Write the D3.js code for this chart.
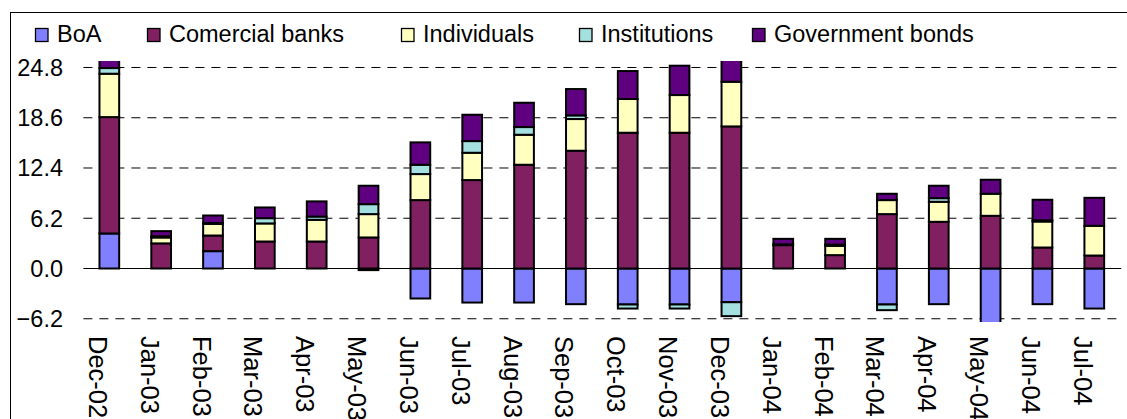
<!DOCTYPE html>
<html>
<head>
<meta charset="utf-8">
<script src="https://cdn.jsdelivr.net/npm/d3@7"></script>
<style>
  html, body { margin: 0; padding: 0; background: #fff; }
  svg { display: block; font-family: "Liberation Sans", Arial, sans-serif; }
</style>
</head>
<body>
<svg id="chart" width="1127" height="419"></svg>
<script>
// Monthly categories
const categories = ["Dec-02", "Jan-03", "Feb-03", "Mar-03", "Apr-03", "May-03", "Jun-03",
  "Jul-03", "Aug-03", "Sep-03", "Oct-03", "Nov-03", "Dec-03", "Jan-04", "Feb-04",
  "Mar-04", "Apr-04", "May-04", "Jun-04", "Jul-04"];

// Series values per month
const boa = [4.32, 0, 2.14, 0, 0, -0.2, -3.7, -4.2, -4.2, -4.4, -4.44, -4.44, -4.16, 0, 0,
  -4.44, -4.4, -7.5, -4.4, -4.94];
const commercialBanks = [14.36, 3.1, 1.93, 3.33, 3.33, 3.83, 8.44, 10.91, 12.8, 14.53, 16.75,
  16.75, 17.53, 2.88, 1.65, 6.71, 5.76, 6.5, 2.59, 1.6];
const individuals = [5.35, 0.73, 1.44, 2.23, 2.68, 2.88, 3.21, 3.37, 3.7, 3.91, 4.16, 4.65,
  5.51, 0, 1.15, 1.73, 2.47, 2.72, 3.21, 3.67];
const institutions = [0.7, 0.15, 0.1, 0.65, 0.4, 1.23, 1.15, 1.44, 0.95, 0.45, -0.5, -0.5,
  -1.72, 0.1, 0.15, -0.7, 0.45, 0, 0.15, 0];
const governmentBonds = [1.4, 0.63, 0.93, 1.32, 1.87, 2.27, 2.76, 3.25, 3.0, 3.25, 3.45, 3.62,
  3.0, 0.68, 0.71, 0.78, 1.53, 1.73, 2.53, 3.45];

// Series names and y-axis ticks
const seriesNames = ["BoA", "Comercial banks", "Individuals", "Institutions", "Government bonds"];
const yTicks = [-6.2, 0, 6.2, 12.4, 18.6, 24.8];

const seriesValues = [boa, commercialBanks, individuals, institutions, governmentBonds];
const colors = ["#8080ff", "#802060", "#ffffc0", "#a4e0e0", "#5f0080"];

const table = categories.map((c, i) => {
  const row = { month: c };
  seriesNames.forEach((s, k) => { row[s] = seriesValues[k][i]; });
  return row;
});

const svg = d3.select("#chart");
const plot = { left: 83.4, right: 1120.2, top: 61, bottom: 322 };

const x = d3.scaleBand()
  .domain(categories)
  .range([plot.left, plot.right])
  .paddingInner(0.62)
  .paddingOuter(0.31);

const y = d3.scaleLinear()
  .domain([-6.6, 25.6])
  .range([plot.bottom, plot.top]);

// Outer chart frame
svg.append("rect")
  .attr("x", 10.5).attr("y", 12.5)
  .attr("width", 1130).attr("height", 430)
  .attr("fill", "none").attr("stroke", "#000").attr("stroke-width", 1);

// Dashed gridlines
svg.append("g")
  .selectAll("line")
  .data(yTicks.filter(t => t !== 0))
  .join("line")
  .attr("x1", plot.left).attr("x2", plot.right + 1)
  .attr("y1", d => y(d)).attr("y2", d => y(d))
  .attr("stroke", "#000")
  .attr("stroke-width", 1)
  .attr("stroke-dasharray", "9,7");

// Y tick labels
svg.append("g")
  .selectAll("text")
  .data(yTicks)
  .join("text")
  .attr("x", 63)
  .attr("y", d => y(d))
  .attr("dy", "0.36em")
  .attr("text-anchor", "end")
  .attr("font-size", 23.5)
  .attr("fill", "#000")
  .text(d => d3.format(".1f")(d));

// Stacked bars (diverging around zero)
svg.append("clipPath").attr("id", "plotClip")
  .append("rect")
  .attr("x", plot.left - 2).attr("y", plot.top)
  .attr("width", plot.right - plot.left + 4).attr("height", plot.bottom - plot.top);

const stacked = d3.stack()
  .keys(seriesNames)
  .offset(d3.stackOffsetDiverging)(table);

const barLayer = svg.append("g").attr("clip-path", "url(#plotClip)");
barLayer.selectAll("g")
  .data(stacked)
  .join("g")
  .attr("fill", (d, i) => colors[i])
  .selectAll("rect")
  .data(d => d.filter(p => p[1] !== p[0]))
  .join("rect")
  .attr("x", d => x(d.data.month))
  .attr("width", x.bandwidth())
  .attr("y", d => y(Math.max(d[0], d[1])))
  .attr("height", d => Math.abs(y(d[0]) - y(d[1])))
  .attr("stroke", "#000")
  .attr("stroke-width", 2);

// Zero line
svg.append("line")
  .attr("x1", plot.left).attr("x2", plot.right + 1)
  .attr("y1", y(0)).attr("y2", y(0))
  .attr("stroke", "#000").attr("stroke-width", 1.2);

// Category labels, rotated
svg.append("g")
  .selectAll("text")
  .data(categories)
  .join("text")
  .attr("transform", d => `translate(${x(d) + x.bandwidth() / 2},336) rotate(90)`)
  .attr("y", 20.5)
  .attr("text-anchor", "start")
  .attr("font-size", 25.5)
  .attr("fill", "#000")
  .text(d => d);

// Legend
const legendX = [35, 147, 401, 579, 752];
const legend = svg.append("g")
  .selectAll("g")
  .data(seriesNames)
  .join("g")
  .attr("transform", (d, i) => `translate(${legendX[i]},0)`);
legend.append("rect")
  .attr("x", 0.5).attr("y", 28.5)
  .attr("width", 12.5).attr("height", 13)
  .attr("fill", (d, i) => colors[i])
  .attr("stroke", "#000").attr("stroke-width", 1.3);
legend.append("text")
  .attr("x", 22).attr("y", 41.5)
  .attr("font-size", 23.5)
  .attr("fill", "#000")
  .text(d => d);
</script>
</body>
</html>
